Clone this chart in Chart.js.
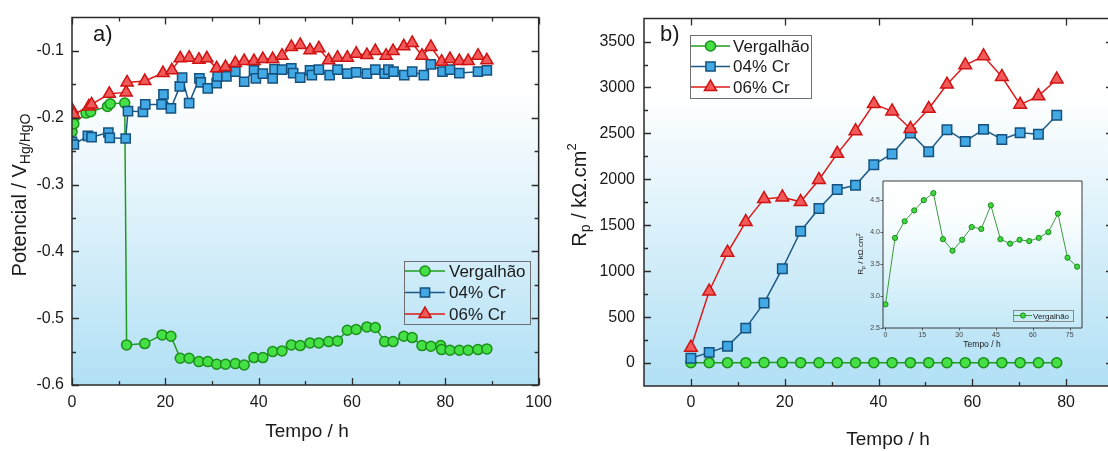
<!DOCTYPE html>
<html>
<head>
<meta charset="utf-8">
<script src="https://cdn.jsdelivr.net/npm/chart.js@4.4.1/dist/chart.umd.min.js"></script>
<style>
  html, body { margin: 0; padding: 0; background: #fff; overflow: hidden; }
  #wrap { position: relative; width: 1108px; height: 451px; overflow: hidden; }
  canvas { position: absolute; }
  #potCanvas { left: 0; top: 0; }
  #rpCanvas { left: 560px; top: 0; }
  #insetCanvas { left: 850px; top: 170px; }
</style>
</head>
<body>
<div id="wrap">
  <canvas id="potCanvas" width="560" height="451"></canvas>
  <canvas id="rpCanvas" width="570" height="451"></canvas>
  <canvas id="insetCanvas" width="240" height="185"></canvas>
</div>
<script>
// (a) potencial de circuito aberto
const potTimeVerg = [0, 0.4, 3, 4, 7.6, 8.2, 11.3, 11.7, 15.6, 19.3, 21.2, 23.2, 25.1, 27.2, 29.1, 31, 32.9, 35, 36.9, 39, 40.9, 43, 45, 47, 48.9, 51, 52.9, 55, 56.9, 59, 60.9, 63.2, 65, 67, 68.8, 71.1, 72.9, 75, 76.9, 79, 79.2, 81, 83, 84.9, 87, 88.9];
const potVerg = [-0.221, -0.209, -0.193, -0.191, -0.183, -0.179, -0.178, -0.540, -0.538, -0.525, -0.527, -0.560, -0.560, -0.565, -0.565, -0.569, -0.569, -0.568, -0.570, -0.559, -0.559, -0.550, -0.549, -0.540, -0.541, -0.537, -0.537, -0.535, -0.534, -0.518, -0.517, -0.513, -0.514, -0.535, -0.535, -0.527, -0.529, -0.541, -0.542, -0.541, -0.547, -0.548, -0.548, -0.548, -0.547, -0.546];

const potTime04 = [0, 0.4, 3.4, 4.2, 7.8, 8.1, 11.5, 12, 15.2, 15.7, 19.2, 19.6, 21.2, 23.1, 23.6, 25.1, 27.3, 27.6, 29.1, 31, 31.2, 33.1, 35, 36.9, 39, 39.4, 40.9, 43, 43.4, 45, 47, 47.4, 48.9, 51, 51.4, 52.9, 55.2, 56.9, 59, 60.9, 63.2, 65, 67, 67.8, 68.9, 71.2, 72.9, 75.4, 76.9, 79.4, 81, 83, 87, 88.9];
const pot04 = [-0.236, -0.240, -0.227, -0.229, -0.222, -0.230, -0.231, -0.190, -0.191, -0.180, -0.180, -0.165, -0.186, -0.153, -0.140, -0.178, -0.141, -0.147, -0.156, -0.148, -0.138, -0.138, -0.131, -0.146, -0.129, -0.141, -0.134, -0.141, -0.127, -0.128, -0.126, -0.133, -0.140, -0.129, -0.136, -0.128, -0.136, -0.128, -0.134, -0.132, -0.134, -0.128, -0.134, -0.128, -0.131, -0.136, -0.131, -0.136, -0.120, -0.131, -0.128, -0.133, -0.131, -0.129];

const potTime06 = [0, 0.4, 3.6, 4.2, 8, 11.6, 11.8, 15.6, 19.5, 21.4, 23.2, 25.1, 27.2, 28.9, 31, 32.9, 35, 36.9, 39, 40.9, 43, 45, 47, 48.9, 51, 52.9, 55, 56.9, 59, 60.9, 63.2, 65, 67.3, 68.8, 71.1, 72.9, 75, 76.9, 79.2, 81, 83, 84.9, 87, 88.9];
const pot06 = [-0.188, -0.195, -0.183, -0.180, -0.164, -0.162, -0.147, -0.145, -0.133, -0.129, -0.111, -0.110, -0.113, -0.111, -0.126, -0.124, -0.118, -0.115, -0.115, -0.112, -0.112, -0.107, -0.094, -0.091, -0.099, -0.096, -0.114, -0.110, -0.110, -0.104, -0.106, -0.100, -0.107, -0.100, -0.093, -0.088, -0.107, -0.094, -0.116, -0.112, -0.115, -0.115, -0.107, -0.114];

const potXTicks = [0, 20, 40, 60, 80, 100];
const potXMinor = [10, 30, 50, 70, 90];
const potYTicks = [-0.6, -0.5, -0.4, -0.3, -0.2, -0.1];
const potYMinor = [-0.55, -0.45, -0.35, -0.25, -0.15];

// (b) resistência de polarização
const rpTime = [0, 3.9, 7.8, 11.7, 15.6, 19.5, 23.4, 27.3, 31.2, 35.1, 39, 42.9, 46.8, 50.7, 54.6, 58.5, 62.4, 66.3, 70.2, 74.1, 78];
const rpVerg = [2.87, 3.91, 4.17, 4.34, 4.50, 4.61, 3.89, 3.71, 3.88, 4.08, 4.05, 4.42, 3.89, 3.82, 3.88, 3.86, 3.91, 4.00, 4.29, 3.60, 3.46];
const rp04 = [53, 116, 183, 380, 654, 1027, 1435, 1682, 1889, 1935, 2160, 2276, 2505, 2301, 2540, 2413, 2544, 2434, 2508, 2491, 2698];
const rp06 = [169, 781, 1203, 1537, 1787, 1805, 1755, 1995, 2280, 2526, 2821, 2741, 2551, 2769, 3033, 3244, 3342, 3117, 2814, 2906, 3089];

const rpXTicks = [0, 20, 40, 60, 80];
const rpXMinor = [10, 30, 50, 70];
const rpYTicks = [0, 500, 1000, 1500, 2000, 2500, 3000, 3500];
const rpYMinor = [250, 750, 1250, 1750, 2250, 2750, 3250];

const insetXTicks = [0, 15, 30, 45, 60, 75];
const insetYTicks = [2.5, 3.0, 3.5, 4.0, 4.5];

const seriesNames = ['Vergalhão', '04% Cr', '06% Cr'];

const FONT = '"Liberation Sans", Arial, sans-serif';
const TEXT = '#1a1a1a';
const GREEN = { line: '#1f9c1f', fill: '#45e045', edge: '#1a8f1a', style: 'circle' };
const BLUE = { line: '#1b5a86', fill: '#42a9e4', edge: '#15527f', style: 'rect' };
const RED = { line: '#dc1a1a', fill: '#f25a5a', edge: '#cf1212', style: 'triangle' };
const PLOT_BG = [[0, '#ffffff'], [0.2, '#ffffff'], [1, '#b1e0f5']];

function pairs(xs, ys) {
  return xs.map((x, i) => ({ x: x, y: ys[i] }));
}

// same geometry as Chart.js point styles, used for the legend samples
function drawMarker(ctx, style, x, y, r) {
  ctx.beginPath();
  if (style === 'circle') {
    ctx.arc(x, y, r, 0, Math.PI * 2);
  } else if (style === 'rect') {
    const s = Math.SQRT1_2 * r;
    ctx.rect(x - s, y - s, 2 * s, 2 * s);
  } else {
    const a = 2 * Math.PI / 3;
    ctx.moveTo(x, y - r);
    ctx.lineTo(x + r * Math.sin(a), y - r * Math.cos(a));
    ctx.lineTo(x + r * Math.sin(2 * a), y - r * Math.cos(2 * a));
    ctx.closePath();
  }
  ctx.fill();
  ctx.stroke();
}

// text made of pieces with their own size / vertical shift (subscripts, superscripts)
function richText(ctx, parts, cx, cy, angle) {
  ctx.save();
  ctx.translate(cx, cy);
  ctx.rotate(angle);
  ctx.fillStyle = TEXT;
  ctx.textBaseline = 'middle';
  ctx.textAlign = 'left';
  let total = 0;
  parts.forEach(p => {
    ctx.font = p.size + 'px ' + FONT;
    p.w = ctx.measureText(p.t).width;
    total += p.w;
  });
  let x = -total / 2;
  parts.forEach(p => {
    ctx.font = p.size + 'px ' + FONT;
    ctx.fillText(p.t, x, p.dy || 0);
    x += p.w;
  });
  ctx.restore();
}

function lineDataset(label, data, c, r, bw, lw, order) {
  return {
    label: label,
    data: data,
    borderColor: c.line,
    borderWidth: lw,
    pointStyle: c.style,
    pointRadius: r,
    pointBackgroundColor: c.fill,
    pointBorderColor: c.edge,
    pointBorderWidth: bw,
    showLine: true,
    tension: 0,
    order: order
  };
}

function axis(min, max, tickVals, fmt, size, pad, fixed, color) {
  return {
    type: 'linear',
    min: min,
    max: max,
    grid: { display: false, drawTicks: false },
    border: { display: false },
    afterBuildTicks: s => { s.ticks = tickVals.map(v => ({ value: v })); },
    afterFit: s => {
      if (s.isHorizontal()) s.height = fixed; else s.width = fixed;
    },
    ticks: {
      autoSkip: false,
      maxRotation: 0,
      padding: pad,
      color: color || TEXT,
      font: { family: FONT, size: size },
      callback: v => fmt(v)
    }
  };
}

// background gradient, frame, tick marks, titles and legend
const panelDecor = {
  id: 'panelDecor',
  beforeDraw(chart, args, o) {
    const { ctx, chartArea: a } = chart;
    const g = ctx.createLinearGradient(0, a.top, 0, a.bottom);
    o.bg.forEach(s => g.addColorStop(s[0], s[1]));
    ctx.save();
    ctx.fillStyle = g;
    ctx.fillRect(a.left, a.top, a.right - a.left, a.bottom - a.top);
    ctx.restore();
  },
  afterDraw(chart, args, o) {
    const { ctx, chartArea: a, scales } = chart;
    const xs = scales.x, ys = scales.y;
    const t = o.ticks;
    ctx.save();

    ctx.strokeStyle = o.frameColor;
    ctx.lineWidth = o.frameWidth;
    ctx.beginPath();
    if (o.fullFrame) {
      ctx.rect(a.left, a.top, a.right - a.left, a.bottom - a.top);
    } else {
      ctx.moveTo(a.left, a.top);
      ctx.lineTo(a.left, a.bottom);
      ctx.lineTo(a.right, a.bottom);
    }
    ctx.stroke();

    ctx.lineWidth = t.width;
    ctx.beginPath();
    const d = t.dir;
    const xMark = (vals, len, top) => vals.forEach(v => {
      const px = Math.round(xs.getPixelForValue(v)) + 0.5;
      ctx.moveTo(px, a.bottom); ctx.lineTo(px, a.bottom - d * len);
      if (top) { ctx.moveTo(px, a.top); ctx.lineTo(px, a.top + d * len); }
    });
    const yMark = (vals, len, right) => vals.forEach(v => {
      const py = Math.round(ys.getPixelForValue(v)) + 0.5;
      ctx.moveTo(a.left, py); ctx.lineTo(a.left + d * len, py);
      if (right) { ctx.moveTo(a.right, py); ctx.lineTo(a.right - d * len, py); }
    });
    xMark(t.xMajor, t.major, t.opposite);
    xMark(t.xMinor, t.minor, t.oppositeMinor);
    yMark(t.yMajor, t.major, t.opposite);
    yMark(t.yMinor, t.minor, t.oppositeMinor);
    ctx.stroke();

    if (o.label) {
      ctx.fillStyle = TEXT;
      ctx.font = o.label.size + 'px ' + FONT;
      ctx.textBaseline = 'alphabetic';
      ctx.textAlign = 'left';
      ctx.fillText(o.label.text, o.label.x, o.label.y);
    }

    richText(ctx, o.xTitle.parts, o.xTitle.x, o.xTitle.y, 0);
    richText(ctx, o.yTitle.parts, o.yTitle.x, o.yTitle.y, -Math.PI / 2);

    const L = o.legend;
    ctx.strokeStyle = L.boxColor;
    ctx.lineWidth = 1;
    ctx.strokeRect(L.x + 0.5, L.y + 0.5, L.w, L.h);
    L.rows.forEach((row, i) => {
      const ry = L.y + L.first + i * L.step;
      ctx.strokeStyle = row.c.line;
      ctx.lineWidth = L.lw;
      ctx.beginPath();
      ctx.moveTo(L.x + 1, ry);
      ctx.lineTo(L.x + 1 + L.lineLen, ry);
      ctx.stroke();
      ctx.fillStyle = row.c.fill;
      ctx.strokeStyle = row.c.edge;
      ctx.lineWidth = L.bw;
      drawMarker(ctx, row.c.style, L.x + 1 + L.lineLen / 2, ry, row.r);
      ctx.fillStyle = TEXT;
      ctx.font = L.size + 'px ' + FONT;
      ctx.textBaseline = 'middle';
      ctx.textAlign = 'left';
      ctx.fillText(row.text, L.x + L.lineLen + L.gap, ry + 1);
    });

    ctx.restore();
  }
};

const fmt1 = v => v.toFixed(1);
const fmt0 = v => String(Math.round(v));

// ---------- (a) ----------
new Chart(document.getElementById('potCanvas'), {
  type: 'line',
  data: {
    datasets: [
      lineDataset(seriesNames[0], pairs(potTimeVerg, potVerg), GREEN, 5, 1.5, 1.5, 3),
      lineDataset(seriesNames[1], pairs(potTime04, pot04), BLUE, 6.5, 1.5, 1.5, 2),
      lineDataset(seriesNames[2], pairs(potTime06, pot06), RED, 7, 1.5, 1.5, 1)
    ]
  },
  options: {
    responsive: false,
    animation: false,
    events: [],
    layout: { padding: { left: 0, right: 18, top: 10, bottom: 0 } },
    scales: {
      x: axis(0, 100, potXTicks, fmt0, 16, 8, 66),
      y: axis(-0.6, -0.05, potYTicks, fmt1, 16, 8, 72)
    },
    plugins: {
      legend: { display: false },
      tooltip: { enabled: false },
      panelDecor: {
        bg: PLOT_BG,
        frameColor: '#2b2b2b',
        frameWidth: 1.5,
        fullFrame: true,
        ticks: { dir: 1, width: 1.3, major: 7, minor: 4, opposite: true, oppositeMinor: true,
                 xMajor: potXTicks, xMinor: potXMinor, yMajor: potYTicks, yMinor: potYMinor },
        label: { text: 'a)', size: 22, x: 93, y: 41 },
        xTitle: { parts: [{ t: 'Tempo / h', size: 19 }], x: 307, y: 432 },
        yTitle: { parts: [{ t: 'Potencial / V', size: 20 }, { t: 'Hg/HgO', size: 14, dy: 6 }], x: 20, y: 195 },
        legend: {
          x: 404, y: 261, w: 126, h: 63, first: 10, step: 21.5, lineLen: 40, gap: 5,
          lw: 1.5, bw: 1.5, size: 17, boxColor: '#6e6e6e',
          rows: [
            { text: seriesNames[0], c: GREEN, r: 5 },
            { text: seriesNames[1], c: BLUE, r: 6.5 },
            { text: seriesNames[2], c: RED, r: 7 }
          ]
        }
      }
    }
  },
  plugins: [panelDecor]
});

// ---------- (b) ----------
new Chart(document.getElementById('rpCanvas'), {
  type: 'line',
  data: {
    datasets: [
      lineDataset(seriesNames[0], pairs(rpTime, rpVerg), GREEN, 5, 1.5, 1.5, 3),
      lineDataset(seriesNames[1], pairs(rpTime, rp04), BLUE, 6.7, 1.5, 1.5, 2),
      lineDataset(seriesNames[2], pairs(rpTime, rp06), RED, 7.3, 1.5, 1.5, 1)
    ]
  },
  options: {
    responsive: false,
    animation: false,
    events: [],
    layout: { padding: { left: 0, right: 17, top: 10, bottom: 0 } },
    scales: {
      x: axis(-10, 90, rpXTicks, fmt0, 16, 7, 65),
      y: axis(-250, 3750, rpYTicks, fmt0, 16, 9, 84)
    },
    plugins: {
      legend: { display: false },
      tooltip: { enabled: false },
      panelDecor: {
        bg: PLOT_BG,
        frameColor: '#2b2b2b',
        frameWidth: 1.5,
        fullFrame: true,
        ticks: { dir: 1, width: 1.3, major: 7, minor: 4, opposite: true, oppositeMinor: false,
                 xMajor: rpXTicks, xMinor: rpXMinor, yMajor: rpYTicks, yMinor: rpYMinor },
        label: { text: 'b)', size: 22, x: 100, y: 41 },
        xTitle: { parts: [{ t: 'Tempo / h', size: 19 }], x: 328, y: 440 },
        yTitle: { parts: [{ t: 'R', size: 20 }, { t: 'p', size: 14, dy: 6 }, { t: ' / kΩ.cm', size: 20 }, { t: '2', size: 13, dy: -8 }], x: 20, y: 195 },
        legend: {
          x: 130, y: 35, w: 121, h: 63, first: 11, step: 20.5, lineLen: 39, gap: 4,
          lw: 1.5, bw: 1.5, size: 17, boxColor: '#6e6e6e',
          rows: [
            { text: seriesNames[0], c: GREEN, r: 5 },
            { text: seriesNames[1], c: BLUE, r: 6.5 },
            { text: seriesNames[2], c: RED, r: 7 }
          ]
        }
      }
    }
  },
  plugins: [panelDecor]
});

// ---------- inset: Vergalhão only ----------
new Chart(document.getElementById('insetCanvas'), {
  type: 'line',
  data: {
    datasets: [
      lineDataset(seriesNames[0], pairs(rpTime, rpVerg), { line: '#3f9a3f', fill: '#3fd83f', edge: '#1e8a1e', style: 'circle' }, 2.6, 1, 1, 1)
    ]
  },
  options: {
    responsive: false,
    animation: false,
    events: [],
    layout: { padding: { left: 0, right: 8, top: 11, bottom: 0 } },
    scales: {
      x: axis(-1, 80, insetXTicks, fmt0, 7, 3, 27, '#444'),
      y: axis(2.5, 4.8, insetYTicks, fmt1, 7, 3, 33, '#444')
    },
    plugins: {
      legend: { display: false },
      tooltip: { enabled: false },
      panelDecor: {
        bg: [[0, '#ffffff'], [0.25, '#fbfeff'], [1, '#c4e9f8']],
        frameColor: '#3a3a3a',
        frameWidth: 1,
        fullFrame: true,
        ticks: { dir: -1, width: 0.8, major: 2.5, minor: 0, opposite: false, oppositeMinor: false,
                 xMajor: insetXTicks, xMinor: [], yMajor: insetYTicks, yMinor: [] },
        label: null,
        xTitle: { parts: [{ t: 'Tempo / h', size: 8.5 }], x: 132, y: 175 },
        yTitle: { parts: [{ t: 'R', size: 8 }, { t: 'p', size: 5.5, dy: 2.5 }, { t: ' / kΩ.cm', size: 8 }, { t: '2', size: 5.5, dy: -3 }], x: 11, y: 84 },
        legend: {
          x: 163, y: 140, w: 60, h: 11, first: 5.5, step: 0, lineLen: 18, gap: 2,
          lw: 1, bw: 1, size: 8, boxColor: '#8a8a8a',
          rows: [
            { text: seriesNames[0], c: { line: '#3f9a3f', fill: '#3fd83f', edge: '#1e8a1e', style: 'circle' }, r: 2.6 }
          ]
        }
      }
    }
  },
  plugins: [panelDecor]
});
</script>
</body>
</html>
